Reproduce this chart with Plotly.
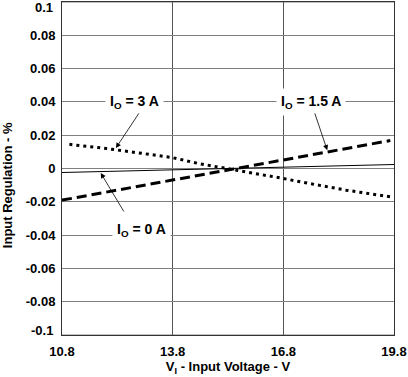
import plotly.graph_objects as go

# Data
v_3a = [11.0, 12.0, 13.0, 13.8, 14.5, 15.3, 16.0, 16.8, 17.5, 18.5, 19.7]
reg_3a = [0.0145, 0.012, 0.009, 0.0065, 0.003, 0.0, -0.003, -0.006, -0.009, -0.013, -0.017]

v_15a = [10.8, 13.8, 16.8, 19.7]
reg_15a = [-0.019, -0.007, 0.005, 0.0168]

v_0a = [10.8, 19.8]
reg_0a = [-0.0024, 0.0024]

x_ticks = [10.8, 13.8, 16.8, 19.8]
y_ticks = [-0.1, -0.08, -0.06, -0.04, -0.02, 0, 0.02, 0.04, 0.06, 0.08, 0.1]
y_ticktext = ["-0.1", "-0.08", "-0.06", "-0.04", "-0.02", "0", "0.02", "0.04", "0.06", "0.08", "0.1"]

font_fam = "Liberation Sans, Arial, sans-serif"

fig = go.Figure()
fig.add_trace(go.Scatter(x=v_0a, y=reg_0a, mode="lines",
                         line=dict(color="black", width=1), showlegend=False))
fig.add_trace(go.Scatter(x=v_15a, y=reg_15a, mode="lines",
                         line=dict(color="black", width=3, dash="10px,5px"), showlegend=False))
fig.add_trace(go.Scatter(x=v_3a, y=reg_3a, mode="lines",
                         line=dict(color="black", width=3, dash="3px,4px"), showlegend=False))

labels = [
    dict(text="I<sub>O</sub> = 3 A", x=12.77, y=0.04),
    dict(text="I<sub>O</sub> = 1.5 A", x=17.56, y=0.04),
    dict(text="I<sub>O</sub> = 0 A", x=12.96, y=-0.037),
]
for lb in labels:
    fig.add_annotation(x=lb["x"], y=lb["y"], text=lb["text"], showarrow=False,
                       bgcolor="white", borderpad=4,
                       font=dict(family=font_fam, size=14, color="black", weight="bold"))

arrows = [
    (12.91, 0.034, 12.26, 0.0123),
    (17.64, 0.034, 17.99, 0.011),
    (12.50, -0.0267, 11.85, -0.0027),
]
for ax, ay, x, y in arrows:
    fig.add_annotation(x=x, y=y, ax=ax, ay=ay, axref="x", ayref="y", xref="x", yref="y",
                       text="", showarrow=True, arrowhead=2, arrowsize=1.3,
                       arrowwidth=0.8, arrowcolor="black", standoff=0, startstandoff=0)

# Extreme y tick labels, drawn slightly inside as in the reference
fig.add_annotation(x=0, xref="paper", xanchor="right", xshift=-7, y=0.1, yref="y",
                   yshift=-5, text=y_ticktext[-1], showarrow=False,
                   font=dict(family=font_fam, size=13, color="black", weight="bold"))
fig.add_annotation(x=0, xref="paper", xanchor="right", xshift=-7, y=-0.1, yref="y",
                   yshift=5, text=y_ticktext[0], showarrow=False,
                   font=dict(family=font_fam, size=13, color="black", weight="bold"))
# Y axis title
fig.add_annotation(x=0, xref="paper", xanchor="center", xshift=-55, y=-0.01, yref="y",
                   text="Input Regulation - %", textangle=-90, showarrow=False,
                   font=dict(family=font_fam, size=13, color="black", weight="bold"))

fig.update_layout(
    width=408, height=377,
    margin=dict(l=62, r=14, t=2, b=42),
    paper_bgcolor="white", plot_bgcolor="white",
    font=dict(family=font_fam, size=13, color="black", weight="bold"),
    xaxis=dict(range=[10.8, 19.8], tickvals=x_ticks, ticktext=[str(t) for t in x_ticks],
               showgrid=True, gridcolor="#555555", gridwidth=1,
               showline=True, linecolor="#333333", linewidth=1, mirror=True,
               zeroline=False, ticks="outside", ticklen=4, tickcolor="rgba(0,0,0,0)",
               tickfont=dict(size=13, weight="bold"),
               title=dict(text="V<sub>I</sub> - Input Voltage - V", standoff=4,
                          font=dict(size=13, weight="bold"))),
    yaxis=dict(range=[-0.1, 0.1], tickvals=y_ticks[1:-1], ticktext=y_ticktext[1:-1],
               showgrid=True, gridcolor="#808080", gridwidth=1,
               showline=True, linecolor="#333333", linewidth=1, mirror=True,
               zeroline=False, ticks="outside", ticklen=3, tickcolor="rgba(0,0,0,0)",
               tickfont=dict(size=13, weight="bold")),
    shapes=[dict(type="line", xref="paper", yref="y", x0=0, x1=1, y0=yv, y1=yv,
                 line=dict(color="#808080", width=1), layer="below")
            for yv in (0.1, -0.1)],
)

fig.write_html("out.html", config={"displayModeBar": False},
               post_script="document.body.style.margin='0';")
